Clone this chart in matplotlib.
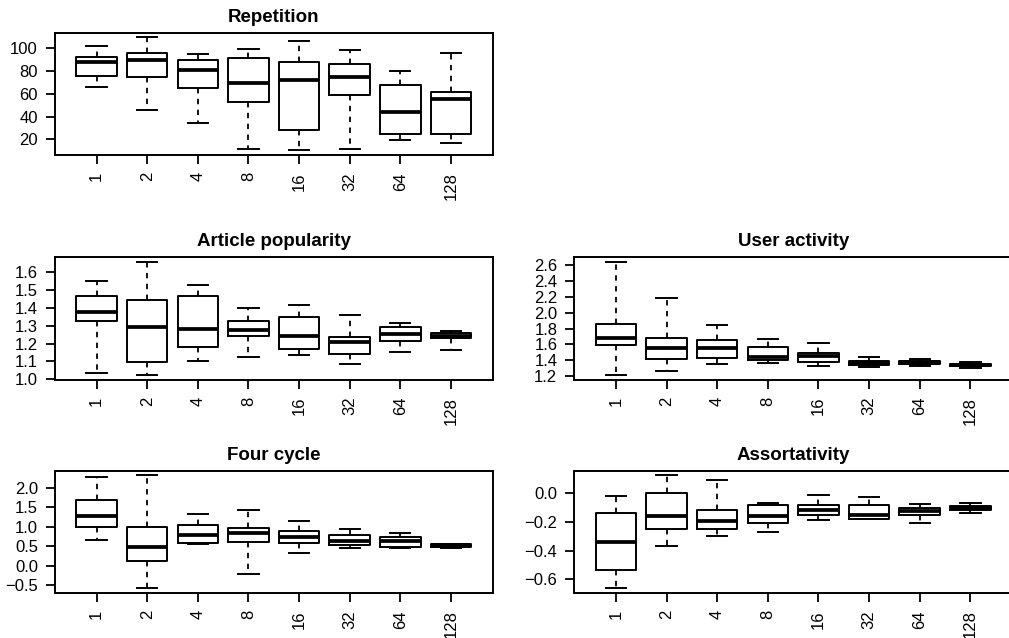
import matplotlib
matplotlib.use("Agg")
import matplotlib.pyplot as plt

plt.rcParams['font.family'] = ['Liberation Sans', 'DejaVu Sans']

groups = ["1", "2", "4", "8", "16", "32", "64", "128"]

# per panel: lower whisker, q1, median, q3, upper whisker
rep_lo = [65.5, 46.0, 34.0, 11.8, 10.4, 12.1, 19.7, 16.8]
rep_q1 = [75.8, 74.9, 65.0, 53.0, 27.9, 59.1, 24.7, 24.4]
rep_med = [87.4, 89.5, 80.4, 69.0, 72.3, 74.6, 44.2, 55.0]
rep_q3 = [92.1, 95.9, 89.8, 91.2, 87.7, 85.7, 67.3, 61.5]
rep_hi = [101.5, 109.3, 94.7, 99.4, 105.8, 98.2, 79.6, 95.9]

art_lo = [1.034, 1.023, 1.100, 1.122, 1.134, 1.083, 1.154, 1.164]
art_q1 = [1.329, 1.098, 1.181, 1.241, 1.171, 1.139, 1.213, 1.231]
art_med = [1.376, 1.295, 1.282, 1.276, 1.245, 1.209, 1.256, 1.245]
art_q3 = [1.468, 1.444, 1.466, 1.329, 1.350, 1.235, 1.292, 1.258]
art_hi = [1.553, 1.660, 1.532, 1.399, 1.418, 1.361, 1.318, 1.269]

usr_lo = [1.213, 1.263, 1.352, 1.365, 1.322, 1.310, 1.322, 1.301]
usr_q1 = [1.593, 1.420, 1.428, 1.399, 1.382, 1.344, 1.352, 1.322]
usr_med = [1.686, 1.555, 1.555, 1.437, 1.449, 1.365, 1.369, 1.339]
usr_q3 = [1.860, 1.678, 1.652, 1.572, 1.492, 1.394, 1.386, 1.352]
usr_hi = [2.642, 2.181, 1.843, 1.665, 1.619, 1.437, 1.420, 1.378]

four_lo = [0.660, -0.577, 0.558, -0.201, 0.319, 0.456, 0.447, 0.464]
four_q1 = [1.002, 0.114, 0.592, 0.618, 0.592, 0.524, 0.498, 0.490]
four_med = [1.275, 0.490, 0.788, 0.840, 0.754, 0.635, 0.643, 0.524]
four_q3 = [1.684, 0.985, 1.061, 0.976, 0.899, 0.805, 0.746, 0.550]
four_hi = [2.282, 2.324, 1.326, 1.437, 1.155, 0.951, 0.848, 0.558]

ass_lo = [-0.665, -0.370, -0.300, -0.272, -0.188, -0.181, -0.207, -0.140]
ass_q1 = [-0.537, -0.253, -0.253, -0.207, -0.153, -0.177, -0.151, -0.119]
ass_med = [-0.340, -0.156, -0.191, -0.158, -0.114, -0.153, -0.126, -0.100]
ass_q3 = [-0.135, 0.005, -0.119, -0.084, -0.084, -0.079, -0.102, -0.086]
ass_hi = [-0.021, 0.126, 0.093, -0.067, -0.012, -0.028, -0.072, -0.065]

W, H = 1009, 638
fig = plt.figure(figsize=(W / 100, H / 100), dpi=100)
fig.patch.set_facecolor("white")

def box_panel(px, top, title, lo, q1, med, q3, hi, yticks, ylabels):
    ax = fig.add_axes([px / W, 1 - (top + 122.3) / H, 437.5 / W, 122.3 / H])
    stats = []
    for i in range(len(groups)):
        stats.append({"whislo": lo[i], "q1": q1[i], "med": med[i],
                      "q3": q3[i], "whishi": hi[i], "fliers": []})
    ax.bxp(stats, positions=range(1, len(groups) + 1), widths=0.8,
           capwidths=0.4, showfliers=False,
           boxprops=dict(color="black", linewidth=1.4),
           whiskerprops=dict(color="black", linewidth=1.3, linestyle=(0, (3, 3))),
           capprops=dict(color="black", linewidth=1.4),
           medianprops=dict(color="black", linewidth=2.7))
    ymin, ymax = min(lo), max(hi)
    r = ymax - ymin
    ax.set_ylim(ymin - 0.04 * r, ymax + 0.04 * r)
    ax.set_xlim(0.18, 8.82)
    ax.set_xticks(range(1, len(groups) + 1))
    ax.set_xticklabels(groups, rotation=90)
    ax.set_yticks(yticks)
    ax.set_yticklabels(ylabels)
    ax.tick_params(direction="out", length=6.8, width=1.3, pad=5.5,
                   labelsize=12, colors="black")
    for s in ax.spines.values():
        s.set_linewidth(1.4)
    ax.set_title(title, fontsize=13.5, fontweight="bold", pad=8)
    return ax

L, R = 55, 574.4
box_panel(L, 32.7, "Repetition", rep_lo, rep_q1, rep_med, rep_q3, rep_hi,
          [20, 40, 60, 80, 100], ["20", "40", "60", "80", "100"])
box_panel(L, 257.3, "Article popularity", art_lo, art_q1, art_med, art_q3, art_hi,
          [1.0, 1.1, 1.2, 1.3, 1.4, 1.5, 1.6],
          ["1.0", "1.1", "1.2", "1.3", "1.4", "1.5", "1.6"])
box_panel(R, 257.3, "User activity", usr_lo, usr_q1, usr_med, usr_q3, usr_hi,
          [1.2, 1.4, 1.6, 1.8, 2.0, 2.2, 2.4, 2.6],
          ["1.2", "1.4", "1.6", "1.8", "2.0", "2.2", "2.4", "2.6"])
box_panel(L, 470.7, "Four cycle", four_lo, four_q1, four_med, four_q3, four_hi,
          [-0.5, 0.0, 0.5, 1.0, 1.5, 2.0],
          ["\u22120.5", "0.0", "0.5", "1.0", "1.5", "2.0"])
box_panel(R, 470.7, "Assortativity", ass_lo, ass_q1, ass_med, ass_q3, ass_hi,
          [-0.6, -0.4, -0.2, 0.0],
          ["\u22120.6", "\u22120.4", "\u22120.2", "0.0"])

fig.savefig("out.png", dpi=100)
